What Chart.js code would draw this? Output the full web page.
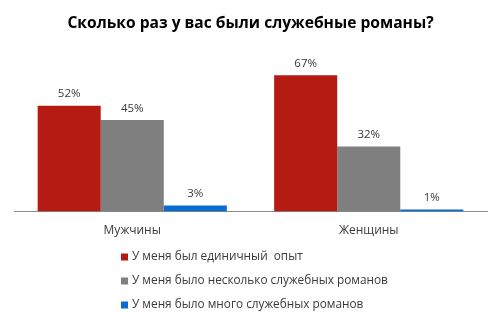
<!DOCTYPE html>
<html>
<head>
<meta charset="utf-8">
<script src="https://cdn.jsdelivr.net/npm/chart.js@4"></script>
<style>
  body { margin: 0; background: #fff; }
  #wrap { width: 501px; height: 323px; }
</style>
</head>
<body>
<div id="wrap"><canvas id="myChart" width="501" height="323"></canvas></div>
<script>
// Survey: how many office romances have you had
const categories = ['Мужчины', 'Женщины'];
const seriesLabels = [
  'У меня был единичный  опыт',
  'У меня было несколько служебных романов',
  'У меня было много служебных романов'
];
const singleAffair = [52, 67];
const severalAffairs = [45, 32];
const manyAffairs = [3, 1];
const seriesColors = ['#B51B13', '#7F7F7F', '#0C6BD0'];

const FONT = "'Open Sans', sans-serif";
const TEXT = '#3a3a3a';

// Percent labels above each bar
const valueLabels = {
  id: 'valueLabels',
  afterDatasetsDraw(chart) {
    const ctx = chart.ctx;
    ctx.save();
    ctx.font = '11.5px ' + FONT;
    ctx.fillStyle = TEXT;
    ctx.textAlign = 'center';
    ctx.textBaseline = 'bottom';
    chart.data.datasets.forEach((ds, i) => {
      chart.getDatasetMeta(i).data.forEach((bar, j) => {
        ctx.fillText(ds.data[j] + '%', bar.x, bar.y - 6);
      });
    });
    ctx.restore();
  }
};

// Vertical legend under the axis
const stackedLegend = {
  id: 'stackedLegend',
  afterDraw(chart) {
    const ctx = chart.ctx;
    const x0 = 121, y0 = 257, step = 24;
    ctx.save();
    ctx.font = '11.8px ' + FONT;
    ctx.textBaseline = 'middle';
    chart.data.datasets.forEach((ds, i) => {
      const y = y0 + i * step;
      ctx.fillStyle = ds.backgroundColor;
      ctx.fillRect(x0, y - 3.5, 7, 7);
      ctx.fillStyle = TEXT;
      ctx.fillText(ds.label, x0 + 11, y);
    });
    ctx.restore();
  }
};

const ctx = document.getElementById('myChart').getContext('2d');
new Chart(ctx, {
  type: 'bar',
  data: {
    labels: categories,
    datasets: [
      { label: seriesLabels[0], data: singleAffair, backgroundColor: seriesColors[0] },
      { label: seriesLabels[1], data: severalAffairs, backgroundColor: seriesColors[1] },
      { label: seriesLabels[2], data: manyAffairs, backgroundColor: seriesColors[2] }
    ]
  },
  options: {
    responsive: false,
    animation: false,
    layout: { padding: { left: 14, right: 14, top: 0, bottom: 81 } },
    datasets: { bar: { categoryPercentage: 0.8, barPercentage: 1 } },
    scales: {
      x: {
        grid: { display: false },
        border: { display: true, color: '#8c8c8c', width: 1 },
        ticks: { color: TEXT, font: { family: FONT, size: 12 }, padding: 4 }
      },
      y: { display: false, min: 0, max: 80 }
    },
    plugins: {
      legend: { display: false },
      tooltip: { enabled: false },
      title: {
        display: true,
        text: 'Сколько раз у вас были служебные романы?',
        color: '#000',
        font: { family: FONT, size: 15.6, weight: 'bold' },
        padding: { top: 14, bottom: 16 }
      }
    }
  },
  plugins: [valueLabels, stackedLegend]
});
</script>
</body>
</html>
